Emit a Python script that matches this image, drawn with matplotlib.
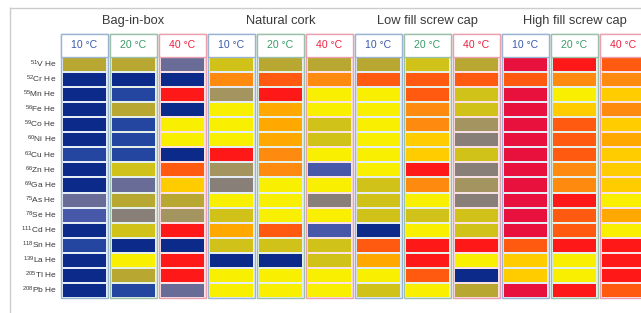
import numpy as np
import matplotlib
matplotlib.use("Agg")
import matplotlib.pyplot as plt
from matplotlib.colors import ListedColormap, BoundaryNorm
from matplotlib.patches import Rectangle
from matplotlib.lines import Line2D

plt.rcParams['font.family'] = ['Liberation Sans', 'DejaVu Sans']
plt.rcParams['mathtext.fontset'] = 'custom'
plt.rcParams['mathtext.rm'] = 'Liberation Sans'

groups = ["Bag-in-box", "Natural cork", "Low fill screw cap", "High fill screw cap"]
temps = ["10 °C", "20 °C", "40 °C"]
isotopes = ["51", "52", "55", "56", "59", "60", "63", "66", "69", "75", "78",
            "111", "118", "139", "205", "208"]
elements = ["V", "Cr", "Mn", "Fe", "Co", "Ni", "Cu", "Zn", "Ga", "As", "Se",
            "Cd", "Sn", "La", "Tl", "Pb"]

# colour level per cell (0 = lowest / navy ... 14 = highest / crimson)
levels = np.array([
    [6, 6, 3, 7, 6, 6, 6, 7, 6, 14, 13, 12],
    [0, 0, 0, 11, 12, 11, 12, 12, 12, 12, 11, 11],
    [0, 1, 13, 5, 13, 8, 8, 12, 7, 14, 8, 9],
    [0, 6, 0, 8, 10, 8, 8, 11, 7, 14, 9, 11],
    [0, 1, 8, 8, 10, 7, 8, 11, 5, 14, 12, 9],
    [0, 1, 8, 8, 10, 7, 8, 9, 4, 14, 12, 10],
    [1, 1, 0, 13, 11, 8, 8, 9, 7, 14, 12, 9],
    [0, 7, 12, 5, 11, 2, 8, 13, 4, 14, 11, 9],
    [0, 3, 9, 4, 8, 8, 7, 11, 5, 14, 11, 9],
    [3, 6, 6, 8, 8, 4, 7, 8, 4, 14, 13, 8],
    [2, 4, 5, 7, 8, 8, 7, 7, 7, 14, 12, 10],
    [0, 7, 13, 10, 12, 2, 0, 8, 7, 14, 12, 8],
    [1, 0, 0, 7, 7, 7, 12, 13, 13, 12, 13, 13],
    [0, 8, 13, 0, 0, 7, 10, 13, 8, 9, 8, 13],
    [0, 6, 13, 8, 8, 8, 8, 12, 0, 9, 8, 13],
    [0, 1, 3, 8, 8, 8, 7, 8, 6, 14, 13, 12],
])

palette = ["#0c2a8a", "#2446a0", "#4858a8", "#6a6c98", "#888078", "#a49460",
           "#b8a832", "#d0c218", "#f8f000", "#ffcc00", "#ffa800", "#ff8a10",
           "#ff5a10", "#ff1818", "#e8103c"]
cmap = ListedColormap(palette)
norm = BoundaryNorm(np.arange(-0.5, len(palette) + 0.5), len(palette))

temp_text = ["#3a5aa8", "#3a9a6a", "#ee2040"]
temp_edge = ["#9ab4d2", "#9cc0aa", "#eaa0ae"]
temp_tint = ["#e4ecf6", "#e4f0e8", "#f8e2e6"]

fig = plt.figure(figsize=(6.41, 3.13), dpi=100)
ax = fig.add_axes([0, 0, 1, 1])
ax.set_xlim(-60 / 49, 581 / 49)
ax.set_ylim(256 / 15.06, -57 / 15.06)
ax.axis("off")

nrows, ncols = levels.shape
header_top = -1.53
for j in range(ncols):
    t = j % 3
    x0, x1 = j + 0.04, j + 0.96
    ax.pcolormesh([x0, x1], np.arange(nrows + 1), levels[:, j:j + 1],
                  cmap=cmap, norm=norm, edgecolors=temp_tint[t], linewidth=1.1)
    ax.add_patch(Rectangle((j + 0.03, header_top), 0.94, nrows - header_top,
                           fill=False, edgecolor=temp_edge[t], linewidth=1.0))
    ax.add_patch(Rectangle((j + 0.03, header_top), 0.94, -header_top,
                           fill=True, facecolor="white", edgecolor=temp_edge[t],
                           linewidth=1.0))
    ax.text(j + 0.5, header_top / 2, temps[t], ha="center", va="center",
            fontsize=7.6, color=temp_text[t])

for g, name in enumerate(groups):
    ax.text(3 * g + 1.5, -2.39, name, ha="center", va="center",
            fontsize=9.3, color="#3a3a3a")

for i, (iso, el) in enumerate(zip(isotopes, elements)):
    ax.text(-0.07, i + 0.5, r"$\mathregular{^{%s}}$%s He" % (iso, el),
            ha="right", va="center", fontsize=6.0, color="#3a3a3a")

# outer frame (cropped box)
fig.add_artist(Line2D([10 / 641, 1], [1 - 8 / 313, 1 - 8 / 313],
                      color="#cccccc", linewidth=1))
fig.add_artist(Line2D([10 / 641, 10 / 641], [0, 1 - 8 / 313],
                      color="#cccccc", linewidth=1))

fig.savefig("out.png", dpi=100)
